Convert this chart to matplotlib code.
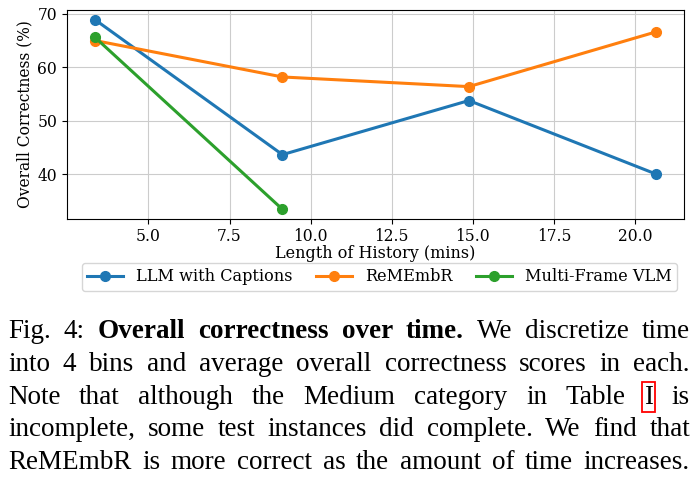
import matplotlib
matplotlib.use("Agg")
import matplotlib.pyplot as plt

# values
x_hist = [3.35, 9.13, 14.88, 20.64]
llm_captions = [68.9, 43.7, 53.8, 40.1]
remembr = [65.0, 58.2, 56.4, 66.6]
x_multi = [3.35, 9.13]
multi_frame = [65.6, 33.5]

caption_lines = [
    [("Fig.", "normal", False), ("4:", "normal", False), ("Overall", "bold", False),
     ("correctness", "bold", False), ("over", "bold", False), ("time.", "bold", False),
     ("We", "normal", False), ("discretize", "normal", False), ("time", "normal", False)],
    [(w, "normal", False) for w in "into 4 bins and average overall correctness scores in each.".split()],
    [(w, "normal", w == "I") for w in "Note that although the Medium category in Table I is".split()],
    [(w, "normal", False) for w in "incomplete, some test instances did complete. We find that".split()],
    [(w, "normal", False) for w in "ReMEmbR is more correct as the amount of time increases.".split()],
]

plt.rcParams['font.family'] = ['DejaVu Serif']

fig = plt.figure(figsize=(6.97, 4.84), dpi=100)
ax = fig.add_axes([0.096, 0.548, 0.885, 0.431])

ax.plot(x_hist, llm_captions, marker='o', lw=2.2, ms=7, color='#1f77b4', label='LLM with Captions')
ax.plot(x_hist, remembr, marker='o', lw=2.2, ms=7, color='#ff7f0e', label='ReMEmbR')
ax.plot(x_multi, multi_frame, marker='o', lw=2.2, ms=7, color='#2ca02c', label='Multi-Frame VLM')

ax.grid(True, color='#cccccc', lw=0.8)
ax.set_xticks([5.0, 7.5, 10.0, 12.5, 15.0, 17.5, 20.0])
ax.set_yticks([40, 50, 60, 70])
ax.tick_params(labelsize=11.2)
ax.set_xlabel("Length of History (mins)", fontsize=11.5, labelpad=0)
ax.set_ylabel("Overall Correctness (%)", fontsize=11.2, labelpad=3)

fig.legend(loc='center', bbox_to_anchor=(0.5445, 0.428), ncol=3, fontsize=11.6,
           frameon=True, columnspacing=1.5, handlelength=2.2, borderpad=0.35)

# justified caption below the plot
fig.canvas.draw()
renderer = fig.canvas.get_renderer()
W = fig.bbox.width
x_left, x_right = 8, 690
line_y = [338, 371, 403.5, 436, 469]
for words, y in zip(caption_lines, line_y):
    texts = []
    for w, weight, boxed in words:
        t = fig.text(0, 1 - y / 484, w, fontsize=19.5, family='Liberation Serif',
                     fontweight=weight, va='baseline', ha='left')
        texts.append((t, boxed))
    widths = [t.get_window_extent(renderer).width for t, _ in texts]
    gap = (x_right - x_left - sum(widths)) / (len(texts) - 1)
    xpos = x_left
    for (t, boxed), wd in zip(texts, widths):
        t.set_x(xpos / W)
        if boxed:
            t.set_bbox(dict(facecolor='none', edgecolor='red', lw=1.3, pad=1.5))
        xpos += wd + gap

fig.savefig("out.png", dpi=100)
